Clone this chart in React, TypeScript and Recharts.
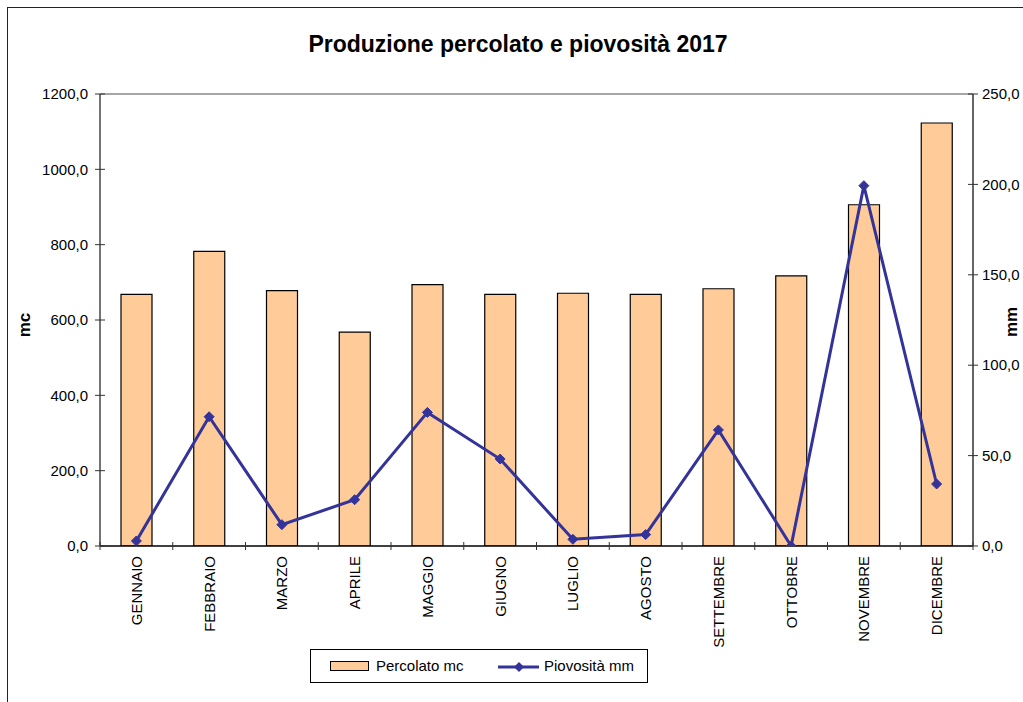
import React from 'react';
import {
  ComposedChart,
  Bar,
  Line,
  XAxis,
  YAxis,
  ReferenceLine
} from 'recharts';

const MONTHS = [
  'GENNAIO', 'FEBBRAIO', 'MARZO', 'APRILE', 'MAGGIO', 'GIUGNO',
  'LUGLIO', 'AGOSTO', 'SETTEMBRE', 'OTTOBRE', 'NOVEMBRE', 'DICEMBRE'
];
const PERCOLATO = [668, 782, 678, 568, 694, 668, 671, 668, 683, 717, 906, 1123];
const PIOVOSITA = [2.8, 71.5, 11.8, 25.6, 73.9, 48.1, 3.7, 6.3, 64.2, 0, 199.3, 34.3];
const LEFT_TICKS = [0, 200, 400, 600, 800, 1000, 1200];
const RIGHT_TICKS = [0, 50, 100, 150, 200, 250];

const data = MONTHS.map((m, i) => ({ mese: m, percolato: PERCOLATO[i], pioggia: PIOVOSITA[i] }));

const FONT = "Arial, 'Liberation Sans', sans-serif";
const BAR_FILL = '#FFCC99';
const LINE_COLOR = '#333399';
const PLOT_LEFT = 100;
const PLOT_RIGHT = 973;
const BAND = (PLOT_RIGHT - PLOT_LEFT) / MONTHS.length;

const fmt = (v: number) => v.toFixed(1).replace('.', ',');

const LeftTick = (props: any) => {
  const { x, y, payload } = props;
  return (
    <g>
      <line x1={x - 5} x2={x + 5} y1={y} y2={y} stroke="#333" strokeWidth={1} />
      <text x={x - 12} y={y} dy="0.35em" textAnchor="end" fontSize={15} fontFamily={FONT} fill="#000">
        {fmt(payload.value)}
      </text>
    </g>
  );
};

const RightTick = (props: any) => {
  const { x, y, payload } = props;
  return (
    <g>
      <line x1={x - 5} x2={x + 5} y1={y} y2={y} stroke="#333" strokeWidth={1} />
      <text x={x + 9} y={y} dy="0.35em" textAnchor="start" fontSize={15} fontFamily={FONT} fill="#000">
        {fmt(payload.value)}
      </text>
    </g>
  );
};

const MonthTick = (props: any) => {
  const { x, y, payload, index } = props;
  const left = x - BAND / 2;
  return (
    <g>
      <line x1={left} x2={left} y1={y - 4} y2={y + 4} stroke="#333" strokeWidth={1} />
      {index === MONTHS.length - 1 && (
        <line x1={x + BAND / 2} x2={x + BAND / 2} y1={y - 4} y2={y + 4} stroke="#333" strokeWidth={1} />
      )}
      <text
        x={x}
        y={y + 10}
        dy="0.36em"
        textAnchor="end"
        transform={`rotate(-90, ${x}, ${y + 10})`}
        fontSize={15}
        fontFamily={FONT}
        fill="#000"
      >
        {payload.value}
      </text>
    </g>
  );
};

const Diamond = (props: any) => {
  const { cx, cy } = props;
  if (cx == null || cy == null) return null;
  const r = 5;
  return (
    <polygon
      points={`${cx},${cy - r} ${cx + r},${cy} ${cx},${cy + r} ${cx - r},${cy}`}
      fill={LINE_COLOR}
      stroke={LINE_COLOR}
      strokeWidth={1}
    />
  );
};

export default function App() {
  return (
    <div
      style={{
        position: 'absolute',
        left: 0,
        top: 0,
        width: 1023,
        height: 702,
        overflow: 'hidden',
        background: '#fff',
        fontFamily: FONT
      }}
    >
      {/* cornice del grafico */}
      <div
        style={{
          position: 'absolute',
          left: 7,
          top: 7,
          width: 1100,
          height: 800,
          border: '1.5px solid #222'
        }}
      />

      <div
        style={{
          position: 'absolute',
          left: 0,
          top: 30,
          width: 1036,
          textAlign: 'center',
          fontWeight: 'bold',
          fontSize: 23,
          lineHeight: '28px'
        }}
      >
        Produzione percolato e piovosità 2017
      </div>

      <div style={{ position: 'absolute', left: 0, top: 0 }}>
        <ComposedChart
          width={1023}
          height={702}
          data={data}
          margin={{ top: 94, right: 0, bottom: 0, left: 0 }}
          barCategoryGap={0}
        >
          <XAxis
            dataKey="mese"
            xAxisId={0}
            height={156}
            interval={0}
            tickSize={0}
            tickMargin={0}
            tick={<MonthTick />}
            axisLine={{ stroke: '#000', strokeWidth: 1.5 }}
            tickLine={false}
          />
          <YAxis
            yAxisId="left"
            orientation="left"
            width={PLOT_LEFT}
            domain={[0, 1200]}
            ticks={LEFT_TICKS}
            tickSize={0}
            tickMargin={0}
            tick={<LeftTick />}
            tickLine={false}
            axisLine={{ stroke: '#444', strokeWidth: 1.5 }}
            allowDataOverflow
          />
          <YAxis
            yAxisId="right"
            orientation="right"
            width={1023 - PLOT_RIGHT}
            domain={[0, 250]}
            ticks={RIGHT_TICKS}
            tickSize={0}
            tickMargin={0}
            tick={<RightTick />}
            tickLine={false}
            axisLine={{ stroke: '#333', strokeWidth: 1.5 }}
            allowDataOverflow
          />
          <ReferenceLine yAxisId="left" y={1200} stroke="#888" strokeWidth={1.5} />
          <Bar
            yAxisId="left"
            dataKey="percolato"
            barSize={31}
            fill={BAR_FILL}
            stroke="#000"
            strokeWidth={1.2}
            isAnimationActive={false}
          />
          <Line
            yAxisId="right"
            type="linear"
            dataKey="pioggia"
            stroke={LINE_COLOR}
            strokeWidth={3}
            dot={<Diamond />}
            activeDot={false}
            isAnimationActive={false}
          />
        </ComposedChart>
      </div>

      {/* titoli degli assi */}
      <div
        style={{
          position: 'absolute',
          left: 25,
          top: 325,
          transform: 'translate(-50%, -50%) rotate(-90deg)',
          fontWeight: 'bold',
          fontSize: 17,
          whiteSpace: 'nowrap'
        }}
      >
        mc
      </div>
      <div
        style={{
          position: 'absolute',
          left: 1012,
          top: 322,
          transform: 'translate(-50%, -50%) rotate(-90deg)',
          fontWeight: 'bold',
          fontSize: 17,
          whiteSpace: 'nowrap'
        }}
      >
        mm
      </div>

      {/* legenda */}
      <div
        style={{
          position: 'absolute',
          left: 310,
          top: 649,
          width: 338,
          height: 34,
          border: '1px solid #000',
          boxSizing: 'border-box',
          fontSize: 15
        }}
      >
        <div
          style={{
            position: 'absolute',
            left: 19,
            top: 11,
            width: 37,
            height: 8,
            background: BAR_FILL,
            border: '1px solid #000'
          }}
        />
        <div style={{ position: 'absolute', left: 65, top: 7, lineHeight: '18px' }}>Percolato mc</div>
        <svg style={{ position: 'absolute', left: 187, top: 8 }} width={42} height={18}>
          <line x1={0} x2={41} y1={9} y2={9} stroke={LINE_COLOR} strokeWidth={3} />
          <polygon points="21,4 26,9 21,14 16,9" fill={LINE_COLOR} />
        </svg>
        <div style={{ position: 'absolute', left: 233, top: 7, lineHeight: '18px' }}>Piovosità mm</div>
      </div>
    </div>
  );
}
